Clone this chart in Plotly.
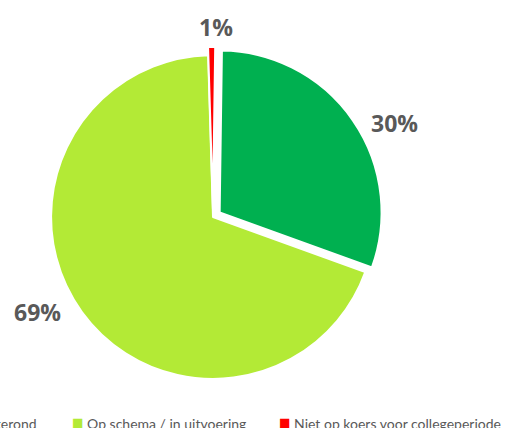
import plotly.graph_objects as go

categories = ["Afgerond", "Op schema / in uitvoering", "Niet op koers voor collegeperiode"]
values = [30.3, 69.0, 0.7]
colors = ["#00B050", "#B3EA36", "#FF0000"]
pulls = [0.05, 0, 0.05]

W, H = 511, 428
# layout: pixel anchor of each percentage label and each legend entry
label_pos = [(394, 123), (37, 312), (216, 27)]
legend_x = [-37, 70, 277]
legend_y = 421

fig = go.Figure(go.Pie(
    labels=categories,
    values=values,
    sort=False,
    direction="clockwise",
    rotation=0.8,
    pull=pulls,
    marker=dict(colors=colors, line=dict(color="white", width=2)),
    textinfo="none",
    hoverinfo="label+percent",
    showlegend=False,
    domain=dict(x=[43 / W, 383 / W], y=[41 / H, 381 / H]),
))

total = sum(values)
for v, (px, py) in zip(values, label_pos):
    fig.add_annotation(
        xref="paper", yref="paper", x=px / W, y=1 - py / H,
        xanchor="center", yanchor="middle", showarrow=False,
        text=f"<b>{round(100 * v / total)}%</b>",
        font=dict(family="Open Sans", size=23, color="#595959"),
    )

# legend row along the bottom (wider than the chart, cut at the left edge)
for name, col, lx in zip(categories, colors, legend_x):
    fig.add_annotation(
        xref="paper", yref="paper", x=lx / W, y=1 - legend_y / H,
        xanchor="left", yanchor="middle", showarrow=False,
        text=f'<span style="color:{col};font-size:19px">■</span> {name}',
        font=dict(family="Lato", size=14, color="#595959"),
    )

fig.update_layout(
    width=W, height=H,
    margin=dict(l=0, r=0, t=0, b=0),
    paper_bgcolor="white",
)
fig.write_html("out.html", config={"displayModeBar": False},
               post_script="document.body.style.margin='0';")
